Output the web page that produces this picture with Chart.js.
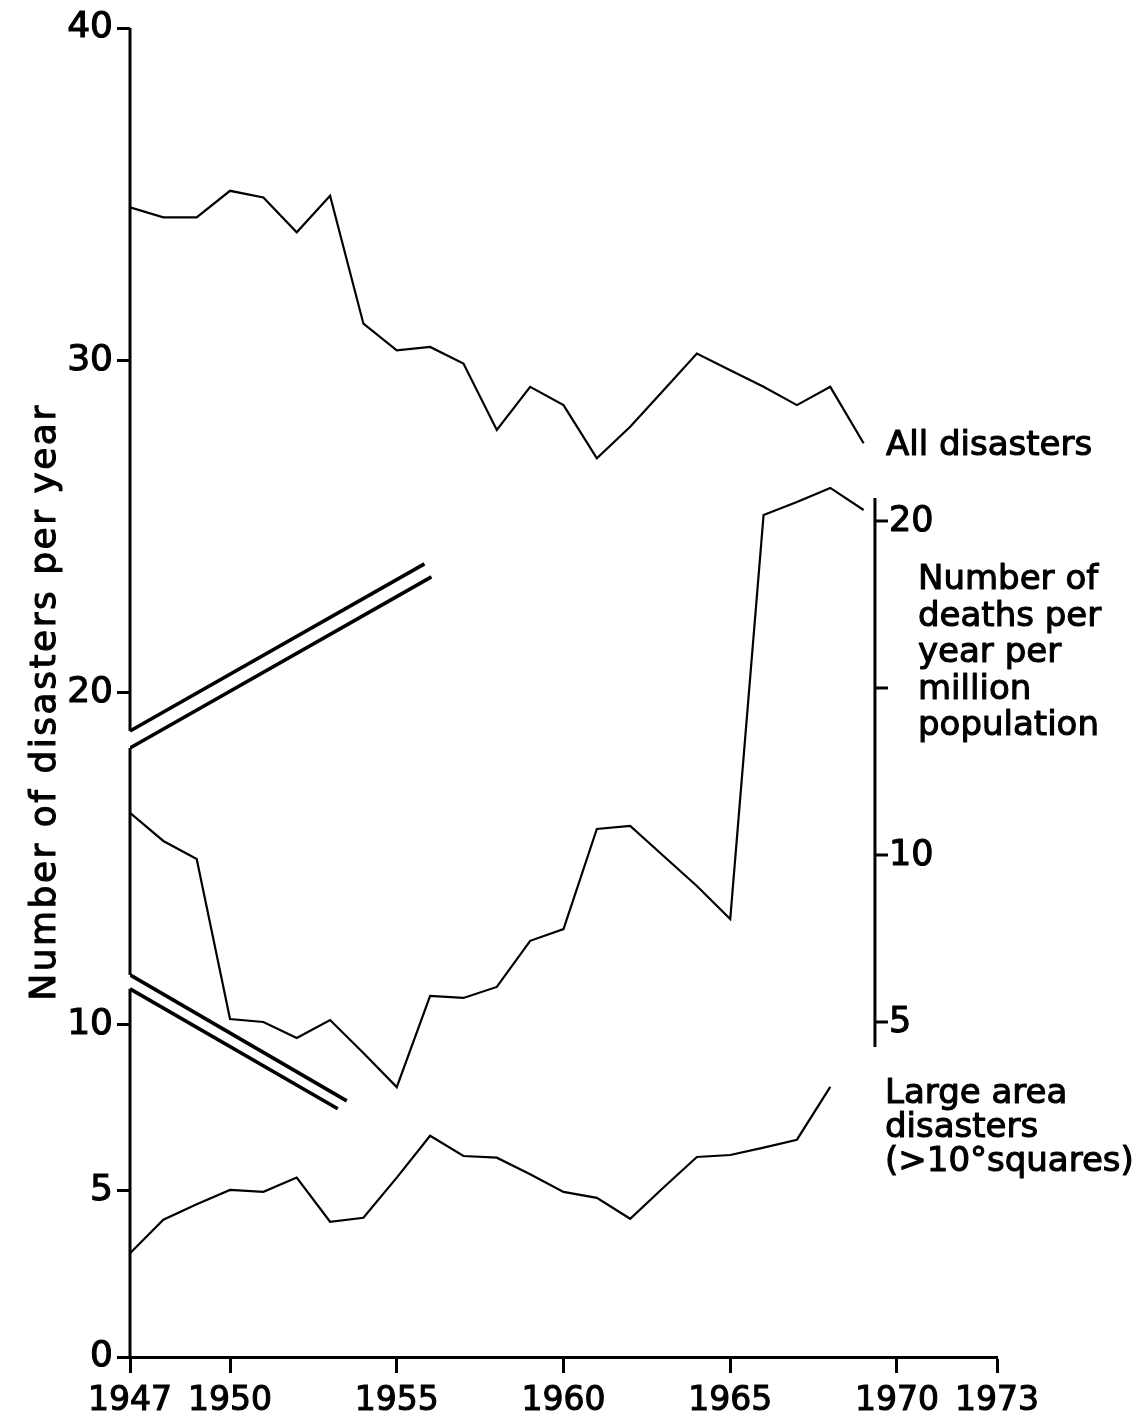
<!DOCTYPE html>
<html>
<head>
<meta charset="utf-8">
<script src="https://cdn.jsdelivr.net/npm/chart.js@4.4.0/dist/chart.umd.min.js"></script>
<style>
html,body{margin:0;padding:0;background:#fff;}
canvas{display:block;}
</style>
</head>
<body>
<canvas id="c" width="1147" height="1415"></canvas>
<script>
// ---- data ----
const years = [1947,1948,1949,1950,1951,1952,1953,1954,1955,1956,1957,1958,1959,1960,1961,1962,1963,1964,1965,1966,1967,1968,1969];
const allDisasters = [34.6,34.3,34.3,35.1,34.9,33.85,34.95,31.1,30.3,30.4,29.9,27.9,29.2,28.65,27.05,28.0,29.1,30.2,29.7,29.2,28.65,29.2,27.5];
const deathsPerMillion = [11.26,10.42,9.88,5.09,5.0,4.52,5.06,4.07,3.05,5.78,5.72,6.05,7.43,7.78,10.78,10.87,9.97,9.07,8.08,20.18,20.57,20.99,20.33];
const largeAreaYears = [1947,1948,1949,1950,1951,1952,1953,1954,1955,1956,1957,1958,1959,1960,1961,1962,1963,1964,1965,1966,1967,1968];
const largeArea = [3.12,4.13,4.6,5.03,4.97,5.4,4.07,4.19,5.4,6.66,6.05,6.0,5.5,4.97,4.79,4.16,5.1,6.02,6.08,6.3,6.54,8.13];

const xTicks = [1947,1950,1955,1960,1965,1970,1973];
const leftTicks = [0,5,10,20,30,40];
const rightTicks = [5,10,15,20];
const rightTickLabels = ['5','10','','20'];

// axis-break marks (in data units of the left axis)
const breakUpperA = [{x:1947,y:18.84},{x:1955.83,y:23.87}];
const breakUpperB = [{x:1947,y:18.33},{x:1956.04,y:23.48}];
const breakLowerA = [{x:1947,y:11.5},{x:1953.5,y:7.71}];
const breakLowerB = [{x:1947,y:11.08},{x:1953.23,y:7.47}];
const leftAxisSegments = [[40,18.84],[18.33,11.5],[11.08,0]];

// right (deaths) axis placement
const rightAxisAtYear = 1969.34;
const rightAxisRange = [4.25,20.69];

const yTitle = 'Number of disasters per year';
const labelAll = ['All disasters'];
const labelDeaths = ['Number of','deaths per','year per','million','population'];
const labelLarge = ['Large area','disasters','(>10°squares)'];

// ---- chart ----
Chart.defaults.font.family = 'DejaVu Sans';
Chart.defaults.color = '#000';

const toPts = (xs, ys) => xs.map((v,i)=>({x:v, y:ys[i]}));

const lineStyle = {borderColor:'#000', borderWidth:2.2, pointRadius:0, tension:0, fill:false};
const breakStyle = {borderColor:'#000', borderWidth:3.6, pointRadius:0, tension:0, fill:false, yAxisID:'y', borderCapStyle:'butt'};

function boldText(ctx, t, x, y){
  ctx.strokeText(t, x, y);
  ctx.fillText(t, x, y);
}

const overlay = {
  id:'overlay',
  afterDatasetsDraw(chart){
    const {ctx, scales:{x, y, y2}} = chart;
    ctx.save();
    ctx.strokeStyle = '#000';
    ctx.fillStyle = '#000';
    ctx.lineCap = 'butt';
    // left axis with breaks
    ctx.lineWidth = 3;
    const ax = x.getPixelForValue(x.min);
    leftAxisSegments.forEach(([a,b])=>{
      ctx.beginPath();
      ctx.moveTo(ax, y.getPixelForValue(a));
      ctx.lineTo(ax, y.getPixelForValue(b));
      ctx.stroke();
    });
    // right axis
    const rx = x.getPixelForValue(rightAxisAtYear);
    ctx.beginPath();
    ctx.moveTo(rx, y2.getPixelForValue(rightAxisRange[1]));
    ctx.lineTo(rx, y2.getPixelForValue(rightAxisRange[0]));
    ctx.stroke();
    rightTicks.forEach((v)=>{
      const py = y2.getPixelForValue(v);
      ctx.beginPath();
      ctx.moveTo(rx, py);
      ctx.lineTo(rx+13, py);
      ctx.stroke();
    });
    ctx.lineWidth = 1.1;
    ctx.lineJoin = 'round';
    ctx.font = '35px "DejaVu Sans"';
    ctx.textAlign = 'left';
    ctx.textBaseline = 'middle';
    rightTicks.forEach((v,i)=>{
      const py = y2.getPixelForValue(v);
      if (rightTickLabels[i]) boldText(ctx, rightTickLabels[i], rx+14, py+1);
    });
    // series annotations
    ctx.font = '34px "DejaVu Sans"';
    ctx.textBaseline = 'alphabetic';
    labelAll.forEach((t,i)=>boldText(ctx, t, 886, 455 + i*36));
    labelDeaths.forEach((t,i)=>boldText(ctx, t, 918, 589 + i*36.5));
    labelLarge.forEach((t,i)=>boldText(ctx, t, 885, 1103 + i*34));
    // y axis title
    ctx.translate(46, 702);
    ctx.rotate(-Math.PI/2);
    ctx.textAlign = 'center';
    ctx.textBaseline = 'middle';
    ctx.font = '36px "DejaVu Sans"';
    try { ctx.letterSpacing = '2.5px'; } catch(e) {}
    boldText(ctx, yTitle, 0, 0);
    ctx.restore();
  }
};

new Chart(document.getElementById('c').getContext('2d'), {
  type:'line',
  data:{
    datasets:[
      Object.assign({label:'All disasters', data:toPts(years, allDisasters), yAxisID:'y'}, lineStyle),
      Object.assign({label:'Deaths per million', data:toPts(years, deathsPerMillion), yAxisID:'y2'}, lineStyle),
      Object.assign({label:'Large area disasters', data:toPts(largeAreaYears, largeArea), yAxisID:'y'}, lineStyle),
      Object.assign({label:'break1', data:breakUpperA}, breakStyle),
      Object.assign({label:'break2', data:breakUpperB}, breakStyle),
      Object.assign({label:'break3', data:breakLowerA}, breakStyle),
      Object.assign({label:'break4', data:breakLowerB}, breakStyle)
    ]
  },
  options:{
    responsive:false,
    animation:false,
    devicePixelRatio:1,
    layout:{padding:{top:28, right:150, bottom:0, left:0}},
    plugins:{legend:{display:false}, tooltip:{enabled:false}, title:{display:false}},
    scales:{
      x:{
        type:'linear', min:1947, max:1973,
        afterBuildTicks:s=>{ s.ticks = xTicks.map(v=>({value:v})); },
        afterFit:s=>{ s.height = 58; },
        ticks:{callback:v=>String(v), font:{size:33}, color:'#000', padding:9, maxRotation:0, minRotation:0, autoSkip:false, textStrokeColor:'#000', textStrokeWidth:1.1},
        grid:{drawOnChartArea:false, drawTicks:true, tickLength:16, tickWidth:3, tickColor:'#000'},
        border:{display:true, width:3, color:'#000'}
      },
      y:{
        type:'linear', position:'left', min:0, max:40,
        afterBuildTicks:s=>{ s.ticks = leftTicks.map(v=>({value:v})); },
        afterFit:s=>{ s.width = 130; },
        ticks:{font:{size:36}, color:'#000', padding:4, textStrokeColor:'#000', textStrokeWidth:1.1},
        grid:{drawOnChartArea:false, drawTicks:true, tickLength:13, tickWidth:3, tickColor:'#000'},
        border:{display:false}
      },
      y2:{
        type:'linear', position:'right', display:false, min:-5.03, max:34.76
      }
    }
  },
  plugins:[overlay]
});
</script>
</body>
</html>
